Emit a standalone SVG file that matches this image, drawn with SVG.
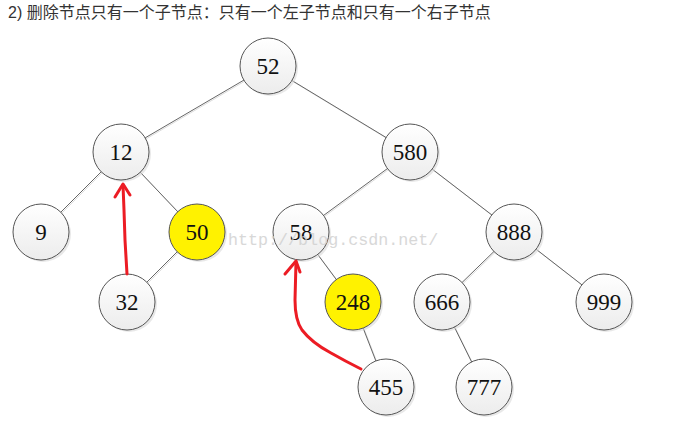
<svg xmlns="http://www.w3.org/2000/svg" width="687" height="422" viewBox="0 0 687 422">
<style>
.title{font-family:"Liberation Sans","Noto Sans CJK SC",sans-serif;font-size:16px;fill:#333}
.node circle.c{stroke:#555;stroke-width:1}
.node circle.s{fill:#d8d8d8;opacity:0.6}
.node text{font-family:"Liberation Serif","DejaVu Serif",serif;font-size:23px;fill:#111;text-anchor:middle;dominant-baseline:central}
.edge{stroke:#666;stroke-width:1;fill:none}
.edgesh{stroke:#ddd;stroke-width:1;fill:none}
.red{stroke:#ec1c24;stroke-width:3;fill:none;stroke-linecap:round;stroke-linejoin:round}
.wm{font-family:"Liberation Mono","DejaVu Sans Mono",monospace;font-size:16.7px;fill:#cfcfcf;opacity:0.8}
</style>
<defs>
<linearGradient id="g" x1="0" y1="0" x2="0" y2="1">
<stop offset="0" stop-color="#ffffff"/>
<stop offset="1" stop-color="#ececec"/>
</linearGradient>
</defs>
<rect width="687" height="422" fill="#fff"/>
<text class="title" x="8" y="18">2)  删除节点只有一个子节点：只有一个左子节点和只有一个右子节点</text>
<g id="connectors">
<line class="edgesh" x1="269" y1="67" x2="122" y2="153"/>
<line class="edgesh" x1="269" y1="67" x2="411" y2="153"/>
<line class="edgesh" x1="122" y1="153" x2="42" y2="233"/>
<line class="edgesh" x1="122" y1="153" x2="198" y2="233"/>
<line class="edgesh" x1="198" y1="233" x2="128" y2="303"/>
<line class="edgesh" x1="411" y1="153" x2="302" y2="233"/>
<line class="edgesh" x1="411" y1="153" x2="515" y2="233"/>
<line class="edgesh" x1="302" y1="233" x2="354" y2="303"/>
<line class="edgesh" x1="354" y1="303" x2="387" y2="388"/>
<line class="edgesh" x1="515" y1="233" x2="443" y2="303"/>
<line class="edgesh" x1="515" y1="233" x2="605" y2="303"/>
<line class="edgesh" x1="443" y1="303" x2="485" y2="388"/>
<line class="edge" x1="268" y1="66" x2="121" y2="152"/>
<line class="edge" x1="268" y1="66" x2="410" y2="152"/>
<line class="edge" x1="121" y1="152" x2="41" y2="232"/>
<line class="edge" x1="121" y1="152" x2="197" y2="232"/>
<line class="edge" x1="197" y1="232" x2="127" y2="302"/>
<line class="edge" x1="410" y1="152" x2="301" y2="232"/>
<line class="edge" x1="410" y1="152" x2="514" y2="232"/>
<line class="edge" x1="301" y1="232" x2="353" y2="302"/>
<line class="edge" x1="353" y1="302" x2="386" y2="387"/>
<line class="edge" x1="514" y1="232" x2="442" y2="302"/>
<line class="edge" x1="514" y1="232" x2="604" y2="302"/>
<line class="edge" x1="442" y1="302" x2="484" y2="387"/>
</g>
<g id="n52" class="node"><circle class="s" cx="270" cy="68" r="28"/><circle class="c" cx="268" cy="66" r="28" fill="url(#g)"/><text x="268" y="66">52</text></g>
<g id="n12" class="node"><circle class="s" cx="123" cy="154" r="28"/><circle class="c" cx="121" cy="152" r="28" fill="url(#g)"/><text x="121" y="152">12</text></g>
<g id="n580" class="node"><circle class="s" cx="412" cy="154" r="28"/><circle class="c" cx="410" cy="152" r="28" fill="url(#g)"/><text x="410" y="152">580</text></g>
<g id="n9" class="node"><circle class="s" cx="43" cy="234" r="28"/><circle class="c" cx="41" cy="232" r="28" fill="url(#g)"/><text x="41" y="232">9</text></g>
<g id="n50" class="node"><circle class="s" cx="199" cy="234" r="28"/><circle class="c" cx="197" cy="232" r="28" fill="#fff200"/><text x="197" y="232">50</text></g>
<g id="n58" class="node"><circle class="s" cx="303" cy="234" r="28"/><circle class="c" cx="301" cy="232" r="28" fill="url(#g)"/><text x="301" y="232">58</text></g>
<g id="n888" class="node"><circle class="s" cx="516" cy="234" r="28"/><circle class="c" cx="514" cy="232" r="28" fill="url(#g)"/><text x="514" y="232">888</text></g>
<g id="n32" class="node"><circle class="s" cx="129" cy="304" r="28"/><circle class="c" cx="127" cy="302" r="28" fill="url(#g)"/><text x="127" y="302">32</text></g>
<g id="n248" class="node"><circle class="s" cx="355" cy="304" r="28"/><circle class="c" cx="353" cy="302" r="28" fill="#fff200"/><text x="353" y="302">248</text></g>
<g id="n666" class="node"><circle class="s" cx="444" cy="304" r="28"/><circle class="c" cx="442" cy="302" r="28" fill="url(#g)"/><text x="442" y="302">666</text></g>
<g id="n999" class="node"><circle class="s" cx="606" cy="304" r="28"/><circle class="c" cx="604" cy="302" r="28" fill="url(#g)"/><text x="604" y="302">999</text></g>
<g id="n455" class="node"><circle class="s" cx="388" cy="389" r="28"/><circle class="c" cx="386" cy="387" r="28" fill="url(#g)"/><text x="386" y="387">455</text></g>
<g id="n777" class="node"><circle class="s" cx="486" cy="389" r="28"/><circle class="c" cx="484" cy="387" r="28" fill="url(#g)"/><text x="484" y="387">777</text></g>
<g id="arrows">
<path class="red" d="M127 274 L125 240 L124 210 L123 185"/>
<path class="red" d="M115 197 L123 184 L130 195"/>
<path class="red" d="M361 369 Q345 361 331 353 Q312 343 302 330 Q295 320 295 300 L296 262"/>
<path class="red" d="M285 274 L296 261 L300 272"/>
</g>
<text class="wm" x="228" y="245">http://blog.csdn.net/</text>
</svg>
